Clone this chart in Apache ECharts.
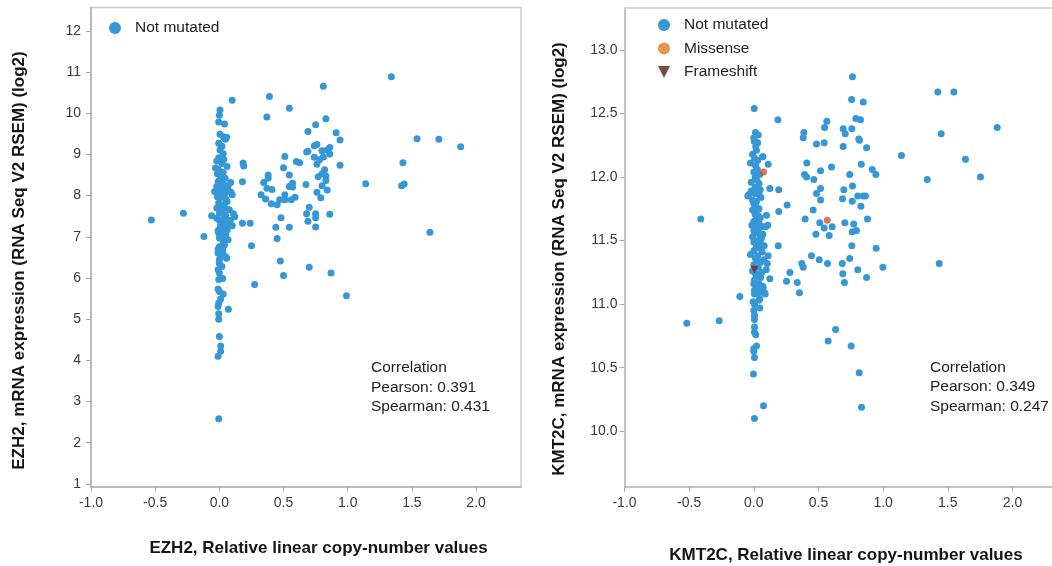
<!DOCTYPE html>
<html>
<head>
<meta charset="utf-8">
<script src="https://cdn.jsdelivr.net/npm/echarts@6/dist/echarts.min.js"></script>
<style>
html,body{margin:0;padding:0;background:#fff;}
#chart{width:1052px;height:566px;}
</style>
</head>
<body>
<div id="chart"></div>
<script>
// ---------- data ----------
const xTicks = [-1.0, -0.5, 0.0, 0.5, 1.0, 1.5, 2.0];
const ezh2YTicks = [1,2,3,4,5,6,7,8,9,10,11,12];
const kmt2cYTicks = [10.0, 10.5, 11.0, 11.5, 12.0, 12.5, 13.0];

const ezh2Title = {y: 'EZH2, mRNA expression (RNA Seq V2 RSEM) (log2)', x: 'EZH2, Relative linear copy-number values'};
const kmt2cTitle = {y: 'KMT2C, mRNA expression (RNA Seq V2 RSEM) (log2)', x: 'KMT2C, Relative linear copy-number values'};
const ezh2Stats = ['Correlation', 'Pearson: 0.391', 'Spearman: 0.431'];
const kmt2cStats = ['Correlation', 'Pearson: 0.349', 'Spearman: 0.247'];

// EZH2 : [copy number, expression]
const ezh2NotMutated = [
  [-0.53,7.41],[-0.28,7.57],[-0.12,7.01],[-0.06,7.51],
  [0.10,10.32],[0.39,10.41],[0.37,9.91],[0.545,10.12],[0.81,10.66],[1.34,10.89],
  [0.83,9.87],[0.75,9.72],[0.69,9.56],[0.91,9.53],[0.94,9.35],
  [1.54,9.38],[1.71,9.37],[1.88,9.19],
  [0.74,9.21],[0.76,9.24],[0.68,9.06],[0.69,9.08],[0.80,9.09],[0.84,9.11],[0.86,9.17],[0.86,9.01],
  [0.74,8.93],[0.78,8.87],[0.81,8.94],[0.76,8.76],[0.60,8.83],[0.625,8.80],[0.94,8.74],[1.43,8.80],
  [0.51,8.95],[0.50,8.68],[0.545,8.50],
  [0.82,8.63],[0.80,8.53],[0.83,8.48],[0.77,8.46],[0.83,8.37],
  [0.57,8.30],[0.57,8.21],[0.545,8.22],[0.675,8.27],[0.80,8.24],[0.84,8.14],
  [1.14,8.29],[1.42,8.24],[1.44,8.28],
  [0.76,8.08],[0.79,7.95],[0.56,7.90],[0.59,7.96],[0.70,7.72],
  [0.68,7.56],[0.75,7.56],[0.75,7.46],[0.69,7.38],[0.75,7.24],[0.86,7.55],[0.545,7.23],
  [1.64,7.11],[0.70,6.26],[0.87,6.12],[0.99,5.57],
  [0.185,8.79],[0.19,8.72],[0.18,8.34],[0.38,8.50],[0.38,8.42],[0.345,8.32],[0.37,8.18],[0.41,8.15],
  [0.325,8.02],[0.36,7.92],[0.405,7.80],[0.45,7.78],[0.47,7.90],[0.51,8.02],[0.51,7.90],
  [0.48,7.46],[0.44,7.23],[0.45,6.96],[0.18,7.33],[0.24,7.33],[0.25,6.78],
  [0.475,6.41],[0.50,6.06],[0.275,5.84],[0.07,5.24],
  // near-zero column
  [0.005,10.08],[0.0,9.95],[-0.005,9.79],[0.04,9.74],[0.005,9.49],[0.03,9.43],[0.057,9.42],[0.047,9.37],
  [-0.005,9.27],[0.005,9.11],[-0.005,8.92],[0.06,8.71],[-0.03,8.67],[-0.01,8.64],[0.005,8.50],[0.02,8.46],
  [0.0,8.38],[0.026,8.30],[0.088,8.32],[0.068,8.22],[-0.037,8.10],[0.0,8.08],[0.04,8.04],[0.10,8.02],
  [0.005,7.94],[0.052,7.91],[-0.005,7.82],[0.03,7.78],[0.0,7.57],[0.078,7.66],[0.11,7.56],[0.12,7.49],
  [0.0,7.41],[0.026,7.33],[0.072,7.37],[0.005,7.21],[0.062,7.17],[-0.005,7.09],[0.03,7.01],[0.068,6.93],
  [0.0,6.76],[0.026,6.68],[-0.01,6.60],[0.013,6.52],[0.052,6.51],[0.057,6.48],
  [0.0,6.36],[-0.01,6.20],[0.0,6.12],[-0.005,5.96],[0.026,5.99],[-0.01,5.73],[0.0,5.67],[0.03,5.61],
  [0.01,5.49],[-0.005,5.39],[-0.01,5.31],[-0.005,5.13],[-0.005,5.00],[0.0,4.58],[0.01,4.35],[0.01,4.22],
  [-0.01,4.10],[-0.005,2.58],
  [0.0,8.60],[0.03,8.56],[-0.015,8.53],[0.045,8.42],[-0.01,8.34],[0.04,8.26],[0.01,8.18],[-0.02,8.22],
  [0.05,8.13],[0.02,8.00],[-0.015,7.97],[0.06,7.86],[0.01,7.74],[-0.02,7.70],[0.045,7.70],[0.02,7.62],
  [0.05,7.52],[-0.02,7.45],[0.04,7.45],[0.01,7.28],[0.05,7.25],[-0.01,7.15],[0.02,7.12],[0.05,7.06],
  [0.0,6.97],[0.03,6.88],[0.04,6.80],[-0.01,6.70],[0.03,6.57],[0.0,6.44],[0.02,6.28],[0.035,8.88],
  [0.02,8.78],[-0.02,8.84],[0.03,9.02],[0.02,9.20],[0.09,8.08],[0.085,7.40],[0.10,7.27]
];

// KMT2C : [copy number, expression]
const kmt2cNotMutated = [
  [-0.41,11.67],[-0.518,10.85],[-0.268,10.87],[-0.108,11.06],
  [0.186,12.45],[0.387,12.35],[0.382,12.31],[0.565,12.44],[0.547,12.39],[0.485,12.26],[0.544,12.27],
  [0.763,12.79],[0.756,12.61],[0.846,12.59],[0.789,12.46],[0.825,12.45],[0.691,12.38],[0.707,12.34],
  [0.758,12.38],[0.812,12.30],[0.817,12.29],[0.691,12.24],[0.872,12.23],
  [1.423,12.67],[1.547,12.67],[1.449,12.34],[1.882,12.39],[1.142,12.17],[1.637,12.14],[1.753,12.00],[1.341,11.98],
  [0.831,12.10],[0.601,12.08],[0.516,12.05],[0.41,12.11],[0.392,12.02],[0.408,12.00],[0.464,11.98],
  [0.742,12.02],[0.916,12.06],[0.944,12.02],
  [0.763,11.93],[0.696,11.90],[0.516,11.91],[0.485,11.87],[0.516,11.82],[0.686,11.83],[0.761,11.81],
  [0.804,11.85],[0.846,11.85],[0.864,11.85],[0.828,11.77],
  [0.459,11.74],[0.397,11.67],[0.51,11.64],[0.544,11.60],[0.606,11.61],[0.48,11.55],[0.583,11.54],
  [0.704,11.64],[0.773,11.63],[0.761,11.57],[0.794,11.58],[0.879,11.67],
  [0.758,11.46],[0.946,11.44],[0.446,11.38],[0.506,11.35],[0.570,11.32],[0.371,11.32],[0.382,11.29],
  [0.684,11.32],[0.742,11.36],[0.804,11.27],[0.688,11.24],[0.872,11.21],[0.998,11.29],[1.434,11.32],
  [0.189,11.46],[0.279,11.25],[0.253,11.18],[0.336,11.17],[0.701,11.17],[0.353,11.09],
  [0.124,11.91],[0.193,11.90],[0.193,11.73],[0.258,11.78],[0.098,11.70],[0.111,12.10],[0.07,12.16],
  [0.632,10.80],[0.575,10.71],[0.753,10.67],[0.815,10.46],[0.833,10.19],[0.075,10.20],[0.005,10.10],[-0.003,10.45],
  // near-zero column
  [0.003,12.54],[0.013,12.35],[0.034,12.33],[0.005,12.28],[0.03,12.27],[0.015,12.24],[0.067,12.16],[0.005,12.15],
  [-0.026,12.11],[0.013,12.09],[0.026,12.06],[0.01,12.00],[0.02,11.98],[0.04,11.95],[0.01,11.92],[0.03,11.90],
  [0.01,11.87],[0.04,11.86],[-0.04,11.86],[-0.046,11.85],[-0.01,11.82],[0.02,11.81],[0.015,11.77],[0.01,11.71],
  [0.02,11.67],[0.0,11.65],[0.04,11.64],[0.02,11.61],[0.07,11.61],[0.108,11.62],[0.09,11.61],[0.07,11.55],
  [0.02,11.56],[0.05,11.53],[0.01,11.50],[0.03,11.48],[0.05,11.49],[0.0,11.49],[0.04,11.49],[0.065,11.41],
  [-0.026,11.39],[0.111,11.38],[0.013,11.36],[0.052,11.33],[0.104,11.32],[0.096,11.27],[0.013,11.24],[0.052,11.21],
  [0.124,11.20],[0.005,11.19],[0.039,11.16],[0.065,11.12],[0.005,11.11],[0.039,11.09],[0.083,11.09],[0.005,11.08],
  [-0.005,11.02],[0.039,11.03],[0.046,10.97],[0.005,11.00],[0.0,10.95],[0.005,10.91],[0.005,10.88],[0.005,10.82],
  [0.005,10.78],[0.015,10.76],[0.021,10.67],[0.0,10.65],[0.0,10.63],[0.005,10.58],[0.046,11.14],[0.072,11.13],
  [0.088,11.08],[0.046,11.04],[0.026,11.10],[0.0,11.16],[0.026,11.15],[0.07,11.14],
  [0.0,12.31],[0.02,12.21],[-0.01,12.18],[0.03,12.13],[0.0,12.04],[0.045,12.02],[-0.02,11.96],[0.05,11.90],
  [-0.02,11.89],[0.055,11.84],[0.0,11.79],[0.04,11.75],[-0.01,11.74],[0.03,11.70],[0.05,11.68],[-0.015,11.62],
  [0.0,11.58],[0.035,11.58],[0.06,11.52],[-0.01,11.53],[0.02,11.45],[0.045,11.44],[0.0,11.42],[0.03,11.38],
  [0.075,11.35],[0.0,11.31],[0.035,11.29],[0.06,11.25],[0.02,11.22],[-0.01,11.26],[0.03,11.33],[0.08,11.46]
];
const kmt2cMissense = [[0.075,12.04],[0.568,11.66]];
const kmt2cFrameshift = [[0.005,11.27]];

// ---------- styles ----------
const FONT = '"Liberation Sans", Arial, Helvetica, sans-serif';
const BLUE = '#3597d6';
const TRI = 'path://M0,0L12,0L6,12Z';

function xAxisCfg(gridIndex, max) {
  return {
    type: 'value', gridIndex, min: -1, max,
    splitLine: {show: false},
    axisLine: {show: true, onZero: false, lineStyle: {color: '#b0b0b0', width: 1.5}},
    axisTick: {show: true, length: 5, customValues: xTicks, lineStyle: {color: '#a8a8a8', width: 1}},
    axisLabel: {customValues: xTicks, formatter: v => Number(v).toFixed(1), color: '#3a3a3a',
      fontSize: 14, fontFamily: FONT, margin: 9}
  };
}
function yAxisCfg(gridIndex, min, max, ticks, digits, margin) {
  return {
    type: 'value', gridIndex, min, max,
    splitLine: {show: false},
    axisLine: {show: true, onZero: false, lineStyle: {color: '#b0b0b0', width: 1.5}},
    axisTick: {show: true, length: 5, customValues: ticks, lineStyle: {color: '#a8a8a8', width: 1}},
    axisLabel: {customValues: ticks, formatter: v => Number(v).toFixed(digits), color: '#3a3a3a',
      fontSize: 14, fontFamily: FONT, margin}
  };
}
function titleText(x, y, text, rotate) {
  return {type: 'text', x, y, rotation: rotate ? Math.PI / 2 : 0, silent: true,
    style: {text, fill: '#151515', font: 'bold 17px ' + FONT, align: 'center', verticalAlign: 'middle'}};
}
function statsText(x, y, lines) {
  return {type: 'text', x, y, silent: true,
    style: {text: lines.join('\n'), fill: '#222', font: '15.5px ' + FONT, lineHeight: 19.3,
      align: 'left', verticalAlign: 'middle'}};
}

const chart = echarts.init(document.getElementById('chart'), null, {renderer: 'canvas'});
chart.setOption({
  animation: false,
  backgroundColor: '#fff',
  textStyle: {fontFamily: FONT},
  grid: [
    {left: 91, right: 531, top: 7.5, bottom: 79.3, show: true, borderColor: '#cccccc', borderWidth: 1.5, containLabel: false},
    {left: 624.5, right: 0, top: 8, bottom: 79.3, show: false, containLabel: false}
  ],
  xAxis: [
    xAxisCfg(0, 2.35),
    xAxisCfg(1, 2.306),
    // top frame line of the right panel (its right edge runs off the picture)
    {type: 'value', gridIndex: 1, position: 'top', min: -1, max: 2.306,
     splitLine: {show: false}, axisTick: {show: false}, axisLabel: {show: false},
     axisLine: {show: true, onZero: false, lineStyle: {color: '#cccccc', width: 1.5}}}
  ],
  yAxis: [yAxisCfg(0, 0.93, 12.57, ezh2YTicks, 0, 10), yAxisCfg(1, 9.564, 13.33, kmt2cYTicks, 1, 7)],
  legend: [
    {orient: 'vertical', left: 109, top: 20, padding: 0, itemWidth: 30, itemHeight: 12, itemGap: 7.5,
     selectedMode: false,
     textStyle: {fontSize: 15.5, lineHeight: 14, color: '#222', fontFamily: FONT},
     data: [{name: 'Not mutated', icon: 'circle', itemStyle: {color: BLUE}}]},
    {orient: 'vertical', left: 658, top: 17, padding: 0, itemWidth: 30, itemHeight: 12, itemGap: 7.5,
     selectedMode: false,
     textStyle: {fontSize: 15.5, lineHeight: 14, color: '#222', fontFamily: FONT},
     data: [
       {name: 'Not mutated', icon: 'circle', itemStyle: {color: BLUE}},
       {name: 'Missense', icon: 'circle', itemStyle: {color: '#e07a1f'}},
       {name: 'Frameshift', icon: TRI, itemStyle: {color: '#5a1c1c'}}
     ]}
  ],
  series: [
    {name: 'Not mutated', type: 'scatter', xAxisIndex: 0, yAxisIndex: 0, data: ezh2NotMutated,
     symbol: 'circle', symbolSize: 7, itemStyle: {color: BLUE, opacity: 1}},
    {name: 'Not mutated', type: 'scatter', xAxisIndex: 1, yAxisIndex: 1, data: kmt2cNotMutated,
     symbol: 'circle', symbolSize: 7, itemStyle: {color: BLUE, opacity: 1}},
    {name: 'Missense', type: 'scatter', xAxisIndex: 1, yAxisIndex: 1, data: kmt2cMissense, z: 3,
     symbol: 'circle', symbolSize: 7, itemStyle: {color: '#d0542c'}},
    {name: 'Frameshift', type: 'scatter', xAxisIndex: 1, yAxisIndex: 1, data: kmt2cFrameshift, z: 4,
     symbol: TRI, symbolSize: 8, itemStyle: {color: '#7b2424'}}
  ],
  graphic: [
    titleText(19.5, 260.5, ezh2Title.y, true),
    titleText(318.5, 548.5, ezh2Title.x, false),
    titleText(559.5, 259, kmt2cTitle.y, true),
    titleText(846, 555, kmt2cTitle.x, false),
    statsText(371, 387.3, ezh2Stats),
    statsText(930, 387, kmt2cStats)
  ]
});
</script>
</body>
</html>
